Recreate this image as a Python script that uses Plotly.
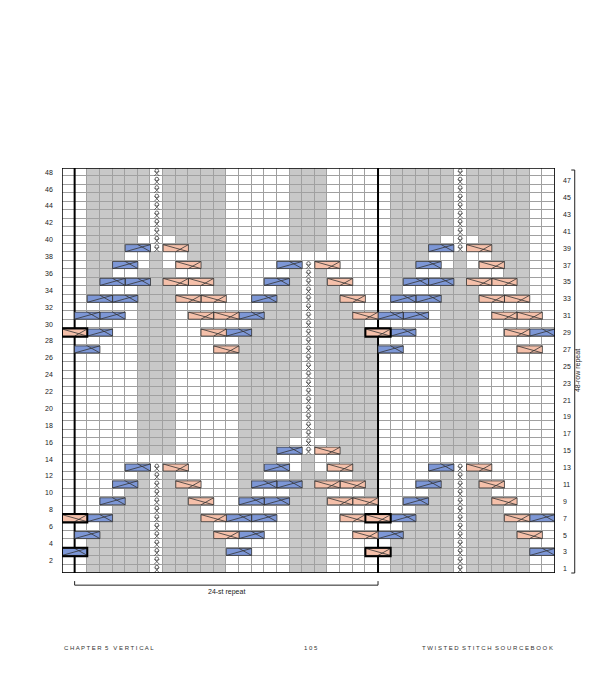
import plotly.graph_objects as go

# chart rows, top (row 48) to bottom (row 1); 39 stitches each
# '.' knit (white)  'g' purl (grey)  't' twisted stitch  'B' blue cable start  'P' pink cable start  '-' cable cont.
rows_top = [
    "..gggggtggggg.....ggg.....gggggtggggg..",  # 48
    "..gggggtggggg.....ggg.....gggggtggggg..",  # 47
    "..gggggtggggg.....ggg.....gggggtggggg..",  # 46
    "..gggggtggggg.....ggg.....gggggtggggg..",  # 45
    "..gggggtggggg.....ggg.....gggggtggggg..",  # 44
    "..gggggtggggg.....ggg.....gggggtggggg..",  # 43
    "..gggggtggggg.....ggg.....gggggtggggg..",  # 42
    "..gggggtggggg.....ggg.....gggggtggggg..",  # 41
    "..gggg.t.gggg.....ggg.....gggg.t.gggg..",  # 40
    "..gggB-tP-ggg.....ggg.....gggB-tP-ggg..",  # 39
    "..ggg..g..ggg.............ggg..g..ggg..",  # 38
    "..ggB-.g.P-gg....B-tP-....ggB-.g.P-gg..",  # 37
    "..gg..ggg..gg.....gtg.....gg..ggg..gg..",  # 36
    "..gB-B-gP-P-g...B-gtgP-...gB-B-gP-P-g..",  # 35
    "..g...ggg...g....ggtgg....g...ggg...g..",  # 34
    "..B-B-gggP-P-..B-ggtggP-..B-B-gggP-P-..",  # 33
    "......ggg.......gggtggg.......ggg......",  # 32
    ".B-B-.ggg.P-P-B-gggtgggP-B-B-.ggg.P-P-.",  # 31
    "......ggg......ggggtgggg......ggg......",  # 30
    "P-B-..ggg..P-B-ggggtggggP-B-..ggg..P-B-",  # 29
    "......ggg.....gggggtggggg.....ggg......",  # 28
    ".B-...ggg...P-gggggtgggggB-...ggg...P-.",  # 27
    "......ggg.....gggggtggggg.....ggg......",  # 26
    "......ggg.....gggggtggggg.....ggg......",  # 25
]
rows_bottom = [
    "......ggg.....gggggtggggg.....ggg......",  # 24
    "......ggg.....gggggtggggg.....ggg......",  # 23
    "......ggg.....gggggtggggg.....ggg......",  # 22
    "......ggg.....gggggtggggg.....ggg......",  # 21
    "......ggg.....gggggtggggg.....ggg......",  # 20
    "......ggg.....gggggtggggg.....ggg......",  # 19
    "......ggg.....gggggtggggg.....ggg......",  # 18
    "......ggg.....gggggtggggg.....ggg......",  # 17
    "......ggg.....gggg.t.gggg.....ggg......",  # 16
    "......ggg.....gggB-tP-ggg.....ggg......",  # 15
    "..............ggg..g..ggg..............",  # 14
    ".....B-tP-....ggB-.g.P-gg....B-tP-.....",  # 13
    "......gtg.....gg..ggg..gg.....gtg......",  # 12
    "....B-gtgP-...gB-B-gP-P-g...B-gtgP-....",  # 11
    ".....ggtgg....g...ggg...g....ggtgg.....",  # 10
    "...B-ggtggP-..B-B-gggP-P-..B-ggtggP-...",  # 9
    "....gggtggg.......ggg.......gggtggg....",  # 8
    "P-B-gggtgggP-B-B-.ggg.P-P-B-gggtgggP-B-",  # 7
    "...ggggtgggg......ggg......ggggtgggg...",  # 6
    ".B-ggggtggggP-B-..ggg..P-B-ggggtggggP-.",  # 5
    "..gggggtggggg.....ggg.....gggggtggggg..",  # 4
    "B-gggggtgggggB-...ggg...P-gggggtgggggB-",  # 3
    "..gggggtggggg.....ggg.....gggggtggggg..",  # 2
    "..gggggtggggg.....ggg.....gggggtggggg..",  # 1
]
# repeat-line boxes (row, first stitch of the cable the line goes around)
repeat_boxes = [(29, 0), (7, 0), (3, 0), (29, 24), (7, 24), (3, 24)]
repeat_lines = [0.5, 24.5]
left_labels = list(range(2, 49, 2))
right_labels = list(range(1, 48, 2))

BLUE = "#7d97d6"
PINK = "#f5c0aa"
GREY = "#c8c8c8"

grid = rows_top + rows_bottom
row_nums = list(range(48, 0, -1))
ncol = len(grid[0])

z = [[1 if ch == "g" else 0 for ch in line] for line in grid]

fig = go.Figure()
fig.add_trace(go.Heatmap(
    z=z, x=list(range(ncol)), y=row_nums,
    colorscale=[[0, "white"], [1, GREY]], zmin=0, zmax=1,
    showscale=False, xgap=1, ygap=1, hoverinfo="skip"))

# repeat lines (under the cables)
lx, ly = [], []
for xl in repeat_lines:
    lx += [xl, xl, None]
    ly += [0.5, 48.5, None]
fig.add_trace(go.Scatter(x=lx, y=ly, mode="lines", line=dict(color="black", width=2),
                         hoverinfo="skip", showlegend=False))

cab = {"B": ([], []), "P": ([], [])}
diag_x, diag_y = [], []
tw_x, tw_y = [], []
for line, r in zip(grid, row_nums):
    for c, ch in enumerate(line):
        if ch in "BP":
            x0, x1, y0, y1 = c - 0.5, c + 1.5, r - 0.42, r + 0.42
            xs, ys = cab[ch]
            xs += [x0, x1, x1, x0, x0, None]
            ys += [y0, y0, y1, y1, y0, None]
            if ch == "B":
                diag_x += [x0, x1, None, c + 0.5, x1, None]
                diag_y += [y0, y1, None, y1, y0, None]
            else:
                diag_x += [x0, x1, None, x1, c + 0.5, None]
                diag_y += [y1, y0, None, y1, y0, None]
        elif ch == "t":
            tw_x.append(c)
            tw_y.append(r)

for ch, col in (("B", BLUE), ("P", PINK)):
    fig.add_trace(go.Scatter(x=cab[ch][0], y=cab[ch][1], mode="lines", fill="toself",
                             fillcolor=col, line=dict(color="#333333", width=0.8),
                             hoverinfo="skip", showlegend=False))
fig.add_trace(go.Scatter(x=diag_x, y=diag_y, mode="lines",
                         line=dict(color="#333333", width=0.8),
                         hoverinfo="skip", showlegend=False))

# twisted stitch symbol: small loop over a cross
fig.add_trace(go.Scatter(x=tw_x, y=[v + 0.2 for v in tw_y], mode="markers",
                         marker=dict(symbol="circle-open", size=3.5, color="#444",
                                     line=dict(width=0.8)),
                         hoverinfo="skip", showlegend=False))
fig.add_trace(go.Scatter(x=tw_x, y=[v - 0.15 for v in tw_y], mode="markers",
                         marker=dict(symbol="x-thin", size=5, color="#444",
                                     line=dict(width=0.8, color="#444")),
                         hoverinfo="skip", showlegend=False))

shapes = []
for r, c in repeat_boxes:
    shapes.append(dict(type="rect", x0=c - 0.5, x1=c + 1.5, y0=r - 0.5, y1=r + 0.5,
                       line=dict(color="black", width=2)))
shapes.append(dict(type="rect", x0=-0.5, x1=38.5, y0=0.5, y1=48.5,
                   line=dict(color="black", width=1.5)))
shapes += [
    dict(type="line", xref="x", yref="paper", x0=0.5, x1=24.5, y0=-0.03, y1=-0.03, line=dict(width=1, color="#222")),
    dict(type="line", xref="x", yref="paper", x0=0.5, x1=0.5, y0=-0.03, y1=-0.02, line=dict(width=1, color="#222")),
    dict(type="line", xref="x", yref="paper", x0=24.5, x1=24.5, y0=-0.03, y1=-0.02, line=dict(width=1, color="#222")),
    dict(type="line", xref="paper", yref="paper", x0=1.04, x1=1.04, y0=0, y1=0.995, line=dict(width=1, color="#222")),
    dict(type="line", xref="paper", yref="paper", x0=1.033, x1=1.04, y0=0.995, y1=0.995, line=dict(width=1, color="#222")),
    dict(type="line", xref="paper", yref="paper", x0=1.033, x1=1.04, y0=0, y1=0, line=dict(width=1, color="#222")),
]

font = dict(family="Liberation Sans, Arial", size=7, color="#222")
foot = dict(family="Liberation Sans, Arial", size=6, color="#333")
ann = []
for v in left_labels:
    ann.append(dict(x=-0.014, xref="paper", y=v, yref="y", text=str(v),
                    showarrow=False, xanchor="right", font=font))
for v in right_labels:
    ann.append(dict(x=1.012, xref="paper", y=v, yref="y", text=str(v),
                    showarrow=False, xanchor="left", font=font))
ann += [
    dict(x=12.5, xref="x", y=-0.048, yref="paper", text="24-st repeat", showarrow=False,
         font=font, yanchor="middle"),
    dict(x=1.058, xref="paper", y=0.5, yref="paper", text="48-row repeat", showarrow=False,
         textangle=-90, font=font),
    dict(x=0.0, xref="paper", y=-0.197, yref="paper", text="C H A P T E R  5&nbsp;&nbsp;&nbsp;V E R T I C A L",
         showarrow=False, xanchor="left", font=foot),
    dict(x=0.505, xref="paper", y=-0.197, yref="paper", text="1 0 5",
         showarrow=False, font=foot),
    dict(x=1.0, xref="paper", y=-0.197, yref="paper", text="T W I S T E D  S T I T C H  S O U R C E B O O K",
         showarrow=False, xanchor="right", font=foot),
]

fig.update_layout(
    width=609, height=700, autosize=False,
    margin=dict(l=54, r=62, t=160, b=135),
    plot_bgcolor="#a0a0a0", paper_bgcolor="white",
    showlegend=False, shapes=shapes, annotations=ann,
    xaxis=dict(range=[-0.5, 38.5], showticklabels=False, showgrid=False, zeroline=False,
               fixedrange=True),
    yaxis=dict(range=[0.5, 48.5], showticklabels=False, showgrid=False, zeroline=False,
               fixedrange=True),
)

fig.write_html("out.html")
